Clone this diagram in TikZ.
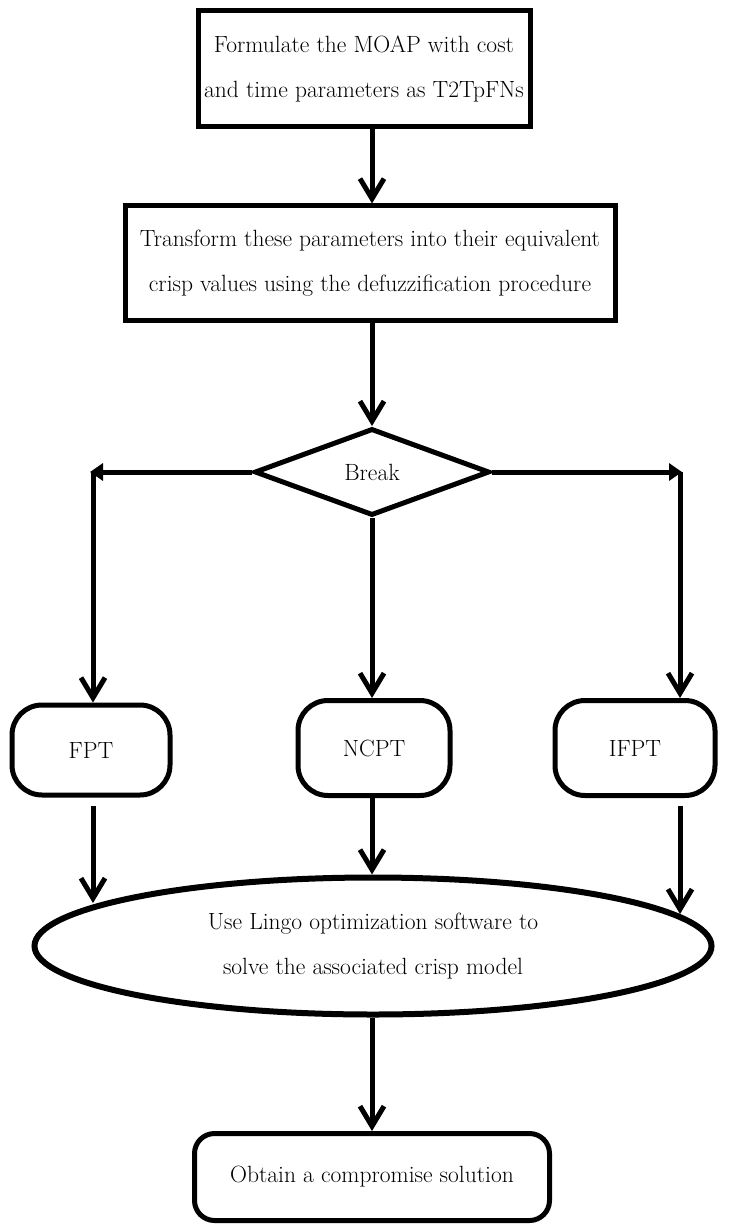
\documentclass[tikz,border=0pt]{standalone}
\usetikzlibrary{shapes.geometric,arrows.meta}
\begin{document}
\begin{tikzpicture}[x=1pt, y=-1pt,
    every node/.style={font=\fontsize{23.5}{45}\selectfont, align=center, inner sep=0pt},
    procbox/.style={draw, line width=5pt},
    termbox/.style={draw, line width=5pt, rounded corners=30pt},
    flowarrow/.style={line width=5pt, -{Straight Barb[length=20pt, width=24pt]}},
    sidearrow/.style={line width=5pt, -{Triangle[length=13pt, width=17pt]}}]
    \useasboundingbox (0, 0) rectangle (729, 1230);

    \node[procbox, minimum width=332pt, minimum height=116pt] (formulate) at (364, 69)
        {Formulate the MOAP with cost\\and time parameters as T2TpFNs};
    \node[procbox, minimum width=490pt, minimum height=114pt] (transform) at (370, 263)
        {Transform these parameters into their equivalent\\crisp values using the defuzzification procedure};
    \node[draw, diamond, line width=5pt, minimum width=235pt, minimum height=87pt] (brk) at (372, 472) {Break};

    \node[termbox, minimum width=158pt, minimum height=90pt] (fpt)  at ( 91, 750) {FPT};
    \node[termbox, minimum width=152pt, minimum height=95pt] (ncpt) at (374, 748) {NCPT};
    \node[termbox, minimum width=160pt, minimum height=95pt] (ifpt) at (635, 748) {IFPT};

    \node[draw, ellipse, line width=6pt, minimum width=677pt, minimum height=137pt] (lingo) at (373, 946)
        {Use Lingo optimization software to\\solve the associated crisp model};
    \node[termbox, rounded corners=20pt, minimum width=355pt, minimum height=87pt] (obtain) at (372, 1177)
        {Obtain a compromise solution};

    \coordinate (brkL)   at ( 90, 472);
    \coordinate (brkR)   at (682, 472);
    \coordinate (lingoL) at ( 93, 903);
    \coordinate (lingoR) at (680, 914);

    \draw[flowarrow] (formulate.south -| brk) -- (transform.north -| brk);
    \draw[flowarrow] (transform.south -| brk) -- (brk.north);
    \draw[sidearrow] (brk.west) -- (brkL);
    \draw[sidearrow] (brk.east) -- (brkR);
    \draw[flowarrow] (brkL -| lingoL) -- (fpt.north -| lingoL);
    \draw[flowarrow] (brk.south) -- (ncpt.north -| brk);
    \draw[flowarrow] (brkL -| lingoR) -- (ifpt.north -| lingoR);

    \draw[flowarrow] (fpt.south -| lingoL) ++(0, 8) -- (lingoL);
    \draw[flowarrow] (ncpt.south -| brk) -- (lingo.north -| brk);
    \draw[flowarrow] (ifpt.south -| lingoR) ++(0, 8) -- (lingoR);
    \draw[flowarrow] (lingo.south -| brk) -- (obtain.north -| brk);
\end{tikzpicture}
\end{document}
